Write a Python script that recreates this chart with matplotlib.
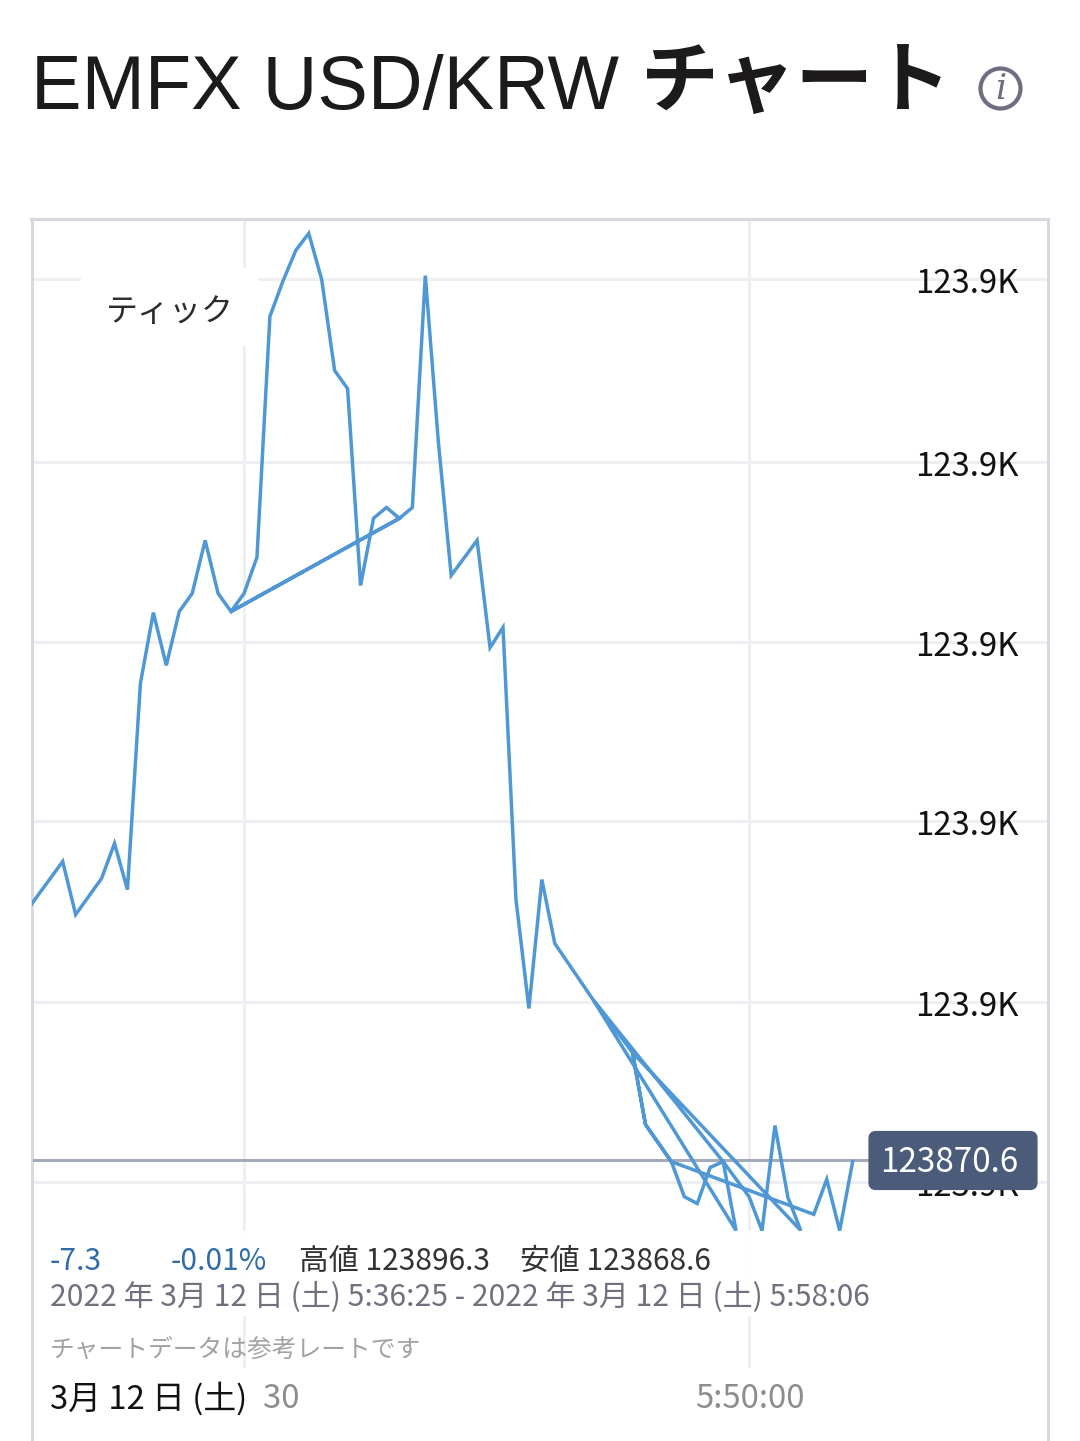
import matplotlib
matplotlib.use("Agg")
import matplotlib.pyplot as plt
from matplotlib.patches import Rectangle, FancyBboxPatch, Ellipse
from matplotlib.transforms import ScaledTranslation

plt.rcParams['font.family'] = ['Noto Sans CJK JP', 'DejaVu Sans']

# tick slot (about 31 s each, slot 0 = first grid line, slot 39 = 5:50:00) in feed order
tick_slot = [-17, -14, -13, -11, -10, -9, -8, -7, -6, -5, -4, -3, -2, -1, 0, 1, 2, 3, 4, 5, 6, 7, 8, 9, 10, 11, 12,
             -1, 12, 13, 14, 15, 16, 18, 19, 20, 21, 22, 23, 24, 27, 30, 31, 33, 34, 35, 36, 37, 38,
             27, 37, 39, 40, 41, 42, 43, 30, 31, 33, 44, 45, 46, 47]
# price minus 123870
tick_price = [7.39, 8.86, 7.39, 8.39, 9.36, 8.08, 13.79, 15.75, 14.29, 15.78, 16.28, 17.75, 16.28, 15.78, 16.28, 17.28,
              23.95, 24.92, 25.78, 26.25, 24.97, 22.45, 21.95, 16.50, 18.36, 18.66, 18.36,
              15.78, 18.36, 18.66, 25.08, 20.51, 16.78, 17.75, 14.78, 15.34, 7.81, 4.79, 8.36, 6.59, 5.01, 3.57, 1.58,
              0.55, -0.42, -0.61, 0.39, 0.55, -1.36,
              5.01, 0.55, -0.42, -1.36, 1.55, -0.44, -1.36, 3.57, 1.58, 0.55, -0.91, 0.06, -1.36, 0.55]
base_price = 123870
y_ticks = [0, 4.98, 9.97, 14.95, 19.93, 25]
y_labels = ['123.9K'] * 6
x_ticks = [0, 39]
last_price = 0.6
last_label = '123870.6'

W, H = 1080, 1441
fig = plt.figure(figsize=(W / 100, H / 100), dpi=100, facecolor='white')


def fx(px):
    return px / W


def fy(py):
    return 1 - py / H


L, R, T, B = 31.5, 1048, 218.5, 1441
ax = fig.add_axes([fx(L), fy(B), (R - L) / W, (B - T) / H])
SX, SY = 12.95, 36.12
Y0 = 1181.5
ax.set_xlim((L - 244) / SX, (R - 244) / SX)
ax.set_ylim((Y0 - B) / SY, (Y0 - T) / SY)
ax.set_axisbelow(True)
ax.set_facecolor('white')

grid = '#eeeff2'
ax.set_yticks(y_ticks, y_labels)
ax.set_xticks(x_ticks)
ax.grid(True, color=grid, lw=2.2)
ax.yaxis.tick_right()
ax.tick_params(axis='y', length=0, pad=-21, labelsize=23.7, labelcolor='#111111')
shift = ScaledTranslation(-0.25 / 100, -1.5 / 100, fig.dpi_scale_trans)
for t in ax.get_yticklabels():
    t.set_ha('right')
    t.set_transform(t.get_transform() + shift)
ax.tick_params(axis='x', length=0, labelbottom=False)
ax.spines['bottom'].set_visible(False)
for s in ['left', 'right', 'top']:
    ax.spines[s].set_color('#d8d8de')
    ax.spines[s].set_linewidth(2.2)


def axbox(x0, y0, x1, y1, z, alpha=1.0):
    ax.add_patch(Rectangle((fx(x0), fy(y1)), (x1 - x0) / W, (y1 - y0) / H, transform=fig.transFigure,
                           fc='white', ec='none', zorder=z, alpha=alpha))


ax.plot(tick_slot, tick_price, color='#4f98d5', lw=2.5, solid_joinstyle='miter', zorder=3)
ax.plot([(34 - 244) / SX, (868 - 244) / SX], [last_price, last_price], color='#a3abb8', lw=2.2, zorder=2.8)

axbox(81, 268, 258, 346, 2)
axbox(34, 1231, 870, 1316, 4, 0.96)
axbox(34, 1368, 1046, 1441, 2)

fig.add_artist(FancyBboxPatch((fx(870.5), fy(1188)), 165 / W, 55 / H, transform=fig.transFigure,
                              boxstyle='round,pad=0,rounding_size=0.005', mutation_aspect=0.75,
                              fc='#4a5c7a', ec='#4a5c7a', lw=3, zorder=6))


def txt(px, py, s, size, color, ha='left', **kw):
    fig.text(fx(px), fy(py), s, fontsize=size, color=color, ha=ha, va='center', zorder=8, **kw)


txt(880, 1163, last_label, 24, 'white')
txt(31, 89, 'EMFX USD/KRW', 54.5, '#1c1a1a', family='Liberation Sans')
txt(641, 84, 'チャート', 56, '#1c1a1a', fontweight='bold')
fig.add_artist(Ellipse((fx(1000.5), fy(88.5)), 40 / W, 40 / H, transform=fig.transFigure,
                       fc='white', ec='#6e6e80', lw=3, zorder=7))
fig.text(fx(1000.5), fy(89), 'i', fontsize=25, color='#6e6e80', ha='center', va='center',
         family='DejaVu Serif', style='italic', zorder=8)

txt(106, 312, 'ティック', 23, '#2b2b2b')
txt(50, 1261, '-7.3', 21.6, '#2f6ca8')
txt(171, 1261, '-0.01%', 21.6, '#2f6ca8')
txt(299, 1261, '高値 123896.3', 21.5, '#333333')
txt(520, 1261, '安値 123868.6', 21.5, '#333333')
txt(50, 1297, '2022 年 3月 12 日 (土) 5:36:25 - 2022 年 3月 12 日 (土) 5:58:06', 21.6, '#70707f')
txt(50, 1349.5, 'チャートデータは参考レートです', 17.8, '#a2a2a2')
txt(50, 1398.5, '3月 12 日 (土)', 23.6, '#111111')
txt(281.5, 1398.5, '30', 23.6, '#8d8d8a', ha='center')
txt(749.5, 1398.5, '5:50:00', 23.6, '#8d8d8a', ha='center')

fig.savefig('out.png', dpi=100)
